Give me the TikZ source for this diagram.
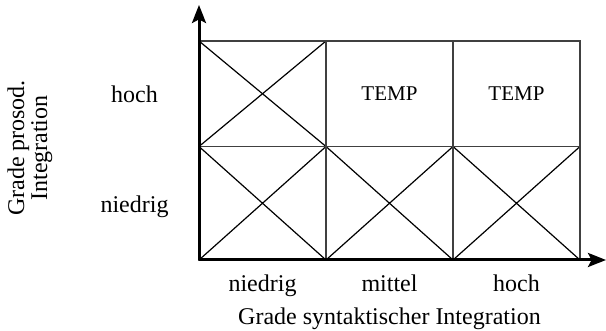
\documentclass[tikz,border=0pt]{standalone}
\usepackage{fontspec}
\setmainfont{Liberation Serif}
\usetikzlibrary{arrows.meta, positioning}

\begin{document}
\begin{tikzpicture}[
  x=0.5pt, y=0.5pt,
  lbl/.style={font=\fontsize{12}{14}\selectfont, text height=8.5pt, text depth=2.5pt},
  cell/.style={
    draw=black!75, line width=0.8pt, inner sep=0pt, outer sep=0pt,
    minimum width=63.5pt, minimum height=#1, font=\fontsize{10.5}{12}\selectfont
  },
  cell/.default=56.75pt,
  crossed/.style={cell=#1, path picture={
    \draw[black, line width=0.6pt]
      (path picture bounding box.south west) -- (path picture bounding box.north east)
      (path picture bounding box.north west) -- (path picture bounding box.south east);}},
  crossed/.default=56.75pt,
  axis/.style={line width=1.5pt, -{Stealth[length=9pt, width=7pt, inset=1.8pt]}}
]
  \useasboundingbox (0,0) rectangle (606,331);
  % Zellen
  \coordinate (o) at (199,71);
  \node[crossed, anchor=south west] (c11) at (o) {};
  \node[crossed, right=0pt of c11] (c21) {};
  \node[crossed, right=0pt of c21] (c31) {};
  \node[crossed=52.75pt, above=0pt of c11] (c12) {};
  \node[cell=52.75pt, above=0pt of c21] (c22) {TEMP};
  \node[cell=52.75pt, above=0pt of c31] (c32) {TEMP};
  % Achsen
  \coordinate (ytip) at (199,326);
  \coordinate (xtip) at (606,71);
  \draw[axis] (o) -- (ytip);
  \draw[axis] (o) -- (xtip);
  % Beschriftung
  \node[lbl, below=3.7pt of c11] (xlo) {niedrig};
  \node[lbl, below=3.7pt of c21] (xmid) {mittel};
  \node[lbl, below=3.7pt of c31] (xhi) {hoch};
  \node[lbl, below=-1.3pt of xmid] (xtitle) {Grade syntaktischer Integration};
  \node[lbl, text width=40pt, align=center, left=8.7pt of c12, yshift=-1.5pt] (yhi) {hoch};
  \node[lbl, text width=40pt, align=center, left=8.7pt of c11, yshift=-1.5pt] (ylo) {niedrig};
  \node[font=\fontsize{12}{11.5}\selectfont, align=center, rotate=90] (ytitle) at (30,183) {Grade prosod.\\Integration};
\end{tikzpicture}
\end{document}
